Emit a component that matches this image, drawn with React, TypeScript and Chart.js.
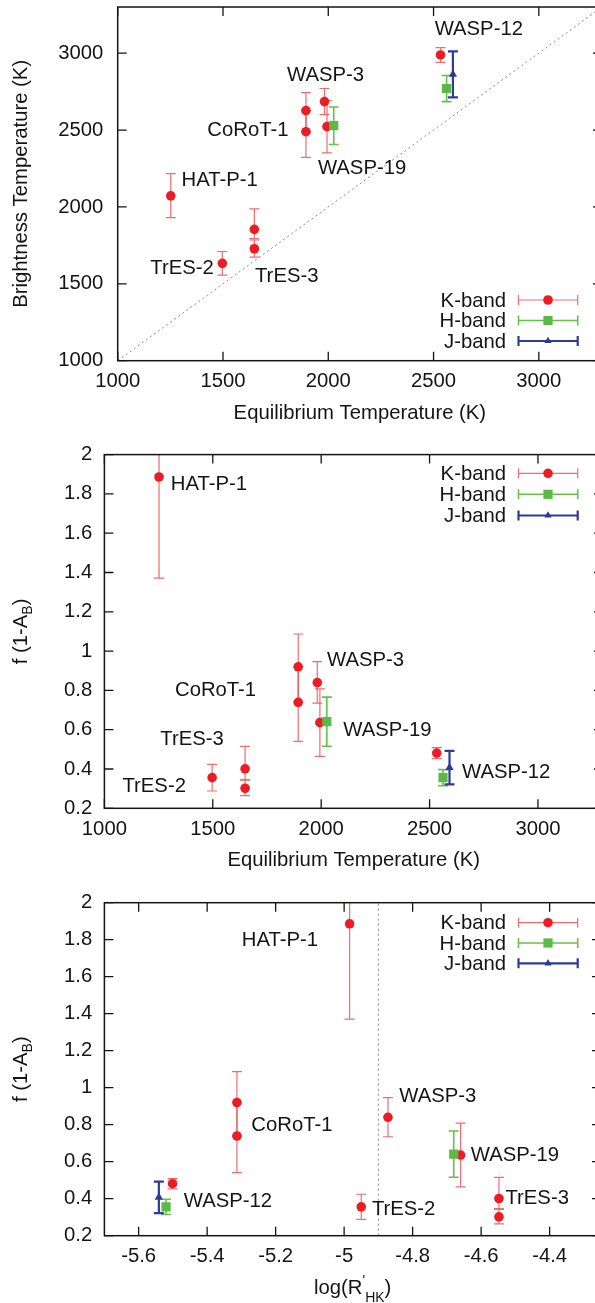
import React, { useEffect, useRef } from "react";
import { Chart, registerables } from "chart.js";
Chart.register(...registerables);

// ---------------- DATA ----------------
// K-band points (order: HAT-P-1, TrES-2, TrES-3 a, TrES-3 b, CoRoT-1 a, CoRoT-1 b, WASP-3, WASP-19, WASP-12)
const kTeq = [1252, 1497, 1649, 1649, 1894, 1894, 1982, 1994, 2533];
const kTb = [2072, 1633, 1854, 1728, 2626, 2489, 2685, 2522, 2988];
const kTbErrHi = [145, 77, 133, 57, 117, 137, 85, 170, 48];
const kTbErrLo = [142, 77, 60, 54, 137, 167, 85, 170, 48];
const kF = [1.886, 0.356, 0.401, 0.302, 0.92, 0.739, 0.84, 0.636, 0.481];
const kFErrHi = [0.515, 0.068, 0.114, 0.042, 0.167, 0.181, 0.106, 0.172, 0.028];
const kFErrLo = [0.515, 0.068, 0.056, 0.038, 0.181, 0.198, 0.105, 0.172, 0.028];
const kLogR = [-4.984, -4.95, -4.548, -4.548, -5.313, -5.313, -4.872, -4.66, -5.501];

// H-band points (WASP-19, WASP-12)
const hTeq = [2026, 2562];
const hTb = [2528, 2770];
const hTbErr = [122, 85];
const hF = [0.641, 0.356];
const hFErr = [0.125, 0.041];
const hLogR = [-4.68, -5.52];

// J-band points (WASP-12)
const jTeq = [2592];
const jTb = [2862];
const jTbErr = [150];
const jF = [0.407];
const jFErr = [0.085];
const jLogR = [-5.541];

// Reference lines
const diagX = [1000, 3300];
const diagY = [1000, 3300];
const activityX = [-4.9, -4.9];
const activityY = [0.2, 2];

// Ticks
const teqTicks = [1000, 1500, 2000, 2500, 3000];
const tbTicks = [1000, 1500, 2000, 2500, 3000];
const fTicks = [0.2, 0.4, 0.6, 0.8, 1, 1.2, 1.4, 1.6, 1.8, 2];
const logRTicks = [-5.6, -5.4, -5.2, -5, -4.8, -4.6, -4.4];

// Point labels
const p1LabelNames = ["WASP-12", "WASP-3", "CoRoT-1", "WASP-19", "HAT-P-1", "TrES-2", "TrES-3"];
const p1LabelX = [2715, 1987, 1811, 1951, 1303, 1456, 1652];
const p1LabelY = [3152, 2852, 2500, 2250, 2174, 1602, 1548];
const p1LabelAlign = ["center", "center", "right", "left", "left", "right", "left"];

const p2LabelNames = ["HAT-P-1", "WASP-3", "CoRoT-1", "WASP-19", "TrES-3", "TrES-2", "WASP-12"];
const p2LabelX = [1306, 2027, 1700, 2102, 1551, 1376, 2650];
const p2LabelY = [1.849, 0.951, 0.798, 0.598, 0.551, 0.31, 0.383];
const p2LabelAlign = ["left", "left", "right", "left", "right", "right", "left"];

const p3LabelNames = ["HAT-P-1", "WASP-3", "CoRoT-1", "WASP-19", "TrES-3", "TrES-2", "WASP-12"];
const p3LabelX = [-5.299, -4.839, -5.271, -4.63, -4.529, -4.919, -5.468];
const p3LabelY = [1.798, 0.951, 0.798, 0.636, 0.402, 0.342, 0.384];
const p3LabelAlign = ["left", "left", "left", "left", "left", "left", "left"];

const legendNames = ["K-band", "H-band", "J-band"];

// ---------------- STYLE ----------------
const FONT = '"Liberation Sans", Arial, Helvetica, sans-serif';
const FS = 20.3;
const CANVAS_W = 610;
const RED = "#ec1c24";
const RED_BAR = "rgba(238,70,70,0.8)";
const GREEN = "#5cb946";
const GREEN_BAR = "#66c04c";
const BLUE = "#2b3a94";
const BLUE_BAR = "#2d3c98";
const INK = "#141414";

type Part = { t: string; s: number; dy: number };

function drawParts(ctx: CanvasRenderingContext2D, parts: Part[], cx: number, baseY: number) {
  let total = 0;
  parts.forEach((p) => {
    ctx.font = `${p.s}px ${FONT}`;
    total += ctx.measureText(p.t).width;
  });
  let x = cx - total / 2;
  ctx.textAlign = "left";
  ctx.textBaseline = "alphabetic";
  parts.forEach((p) => {
    ctx.font = `${p.s}px ${FONT}`;
    ctx.fillText(p.t, x, baseY + p.dy);
    x += ctx.measureText(p.t).width;
  });
}

function drawMarker(ctx: CanvasRenderingContext2D, style: string, x: number, y: number, r: number, color: string) {
  ctx.fillStyle = color;
  ctx.beginPath();
  if (style === "circle") {
    ctx.arc(x, y, r, 0, Math.PI * 2);
  } else if (style === "rect") {
    const h = r * Math.SQRT1_2;
    ctx.rect(x - h, y - h, 2 * h, 2 * h);
  } else {
    ctx.moveTo(x, y - r);
    ctx.lineTo(x + r * 0.866, y + r * 0.5);
    ctx.lineTo(x - r * 0.866, y + r * 0.5);
    ctx.closePath();
  }
  ctx.fill();
}

type Spec = {
  top: number;
  height: number;
  areaTop: number;
  areaBottom: number;
  areaLeft: number;
  areaRight: number;
  xMin: number;
  xMax: number;
  yMin: number;
  yMax: number;
  xTicks: number[];
  yTicks: number[];
  yLabelPad: number;
  datasets: any[];
  labelNames: string[];
  labelX: number[];
  labelY: number[];
  labelAlign: string[];
  legendRows: number[];
  xTitle: Part[];
  yTitle: Part[];
};

const fmt = (v: number) => String(Math.round(v * 100) / 100);

function kSet(xs: number[], ys: number[], hi: number[], lo: number[]) {
  return {
    label: "K-band",
    data: xs.map((x, i) => ({ x, y: ys[i] })),
    pointStyle: "circle",
    pointRadius: 4.8,
    pointBackgroundColor: RED,
    pointBorderWidth: 0,
    errHi: hi,
    errLo: lo,
    errColor: RED_BAR,
    errWidth: 1.2,
    order: 3,
  };
}
function hSet(xs: number[], ys: number[], err: number[]) {
  return {
    label: "H-band",
    data: xs.map((x, i) => ({ x, y: ys[i] })),
    pointStyle: "rect",
    pointRadius: 6.5,
    pointBackgroundColor: GREEN,
    pointBorderWidth: 0,
    errHi: err,
    errLo: err,
    errColor: GREEN_BAR,
    errWidth: 1.6,
    order: 2,
  };
}
function jSet(xs: number[], ys: number[], err: number[]) {
  return {
    label: "J-band",
    data: xs.map((x, i) => ({ x, y: ys[i] })),
    pointStyle: "triangle",
    pointRadius: 4.8,
    pointBackgroundColor: BLUE,
    pointBorderWidth: 0,
    errHi: err,
    errLo: err,
    errColor: BLUE_BAR,
    errWidth: 2.2,
    order: 1,
  };
}
function refSet(xs: number[], ys: number[]) {
  return {
    label: "ref",
    data: xs.map((x, i) => ({ x, y: ys[i] })),
    showLine: true,
    borderColor: "#8a8a8a",
    borderWidth: 1,
    borderDash: [2, 3],
    pointRadius: 0,
    order: 10,
  };
}

const legendStyle = [
  { marker: "circle", r: 4.8, color: RED, bar: RED_BAR, w: 1.2 },
  { marker: "rect", r: 6.5, color: GREEN, bar: GREEN_BAR, w: 1.6 },
  { marker: "triangle", r: 4.2, color: BLUE, bar: BLUE_BAR, w: 2.2 },
];

const fTitle: Part[] = [
  { t: "f (1-A", s: FS, dy: 0 },
  { t: "B", s: 14, dy: 5 },
  { t: ")", s: FS, dy: 0 },
];

const spec1: Spec = {
  top: 0,
  height: 435,
  areaTop: 7,
  areaBottom: 360.7,
  areaLeft: 117.7,
  areaRight: 602,
  xMin: 1000,
  xMax: 3300,
  yMin: 1000,
  yMax: 3300,
  xTicks: teqTicks,
  yTicks: tbTicks,
  yLabelPad: 14.4,
  datasets: [
    refSet(diagX, diagY),
    kSet(kTeq, kTb, kTbErrHi, kTbErrLo),
    hSet(hTeq, hTb, hTbErr),
    jSet(jTeq, jTb, jTbErr),
  ],
  labelNames: p1LabelNames,
  labelX: p1LabelX,
  labelY: p1LabelY,
  labelAlign: p1LabelAlign,
  legendRows: [300, 320.5, 341],
  xTitle: [{ t: "Equilibrium Temperature (K)", s: FS, dy: 0 }],
  yTitle: [{ t: "Brightness Temperature (K)", s: FS, dy: 0 }],
};

const spec2: Spec = {
  top: 435,
  height: 443,
  areaTop: 454.6,
  areaBottom: 808.3,
  areaLeft: 104.4,
  areaRight: 603,
  xMin: 1000,
  xMax: 3300,
  yMin: 0.2,
  yMax: 2,
  xTicks: teqTicks,
  yTicks: fTicks,
  yLabelPad: 12.2,
  datasets: [
    kSet(kTeq, kF, kFErrHi, kFErrLo),
    hSet(hTeq, hF, hFErr),
    jSet(jTeq, jF, jFErr),
  ],
  labelNames: p2LabelNames,
  labelX: p2LabelX,
  labelY: p2LabelY,
  labelAlign: p2LabelAlign,
  legendRows: [473.3, 494.3, 515.5],
  xTitle: [{ t: "Equilibrium Temperature (K)", s: FS, dy: 0 }],
  yTitle: fTitle,
};

const spec3: Spec = {
  top: 878,
  height: 425,
  areaTop: 902.7,
  areaBottom: 1235.7,
  areaLeft: 104.4,
  areaRight: 601,
  xMin: -5.7,
  xMax: -4.25,
  yMin: 0.2,
  yMax: 2,
  xTicks: logRTicks,
  yTicks: fTicks,
  yLabelPad: 12.2,
  datasets: [
    refSet(activityX, activityY),
    kSet(kLogR, kF, kFErrHi, kFErrLo),
    hSet(hLogR, hF, hFErr),
    jSet(jLogR, jF, jFErr),
  ],
  labelNames: p3LabelNames,
  labelX: p3LabelX,
  labelY: p3LabelY,
  labelAlign: p3LabelAlign,
  legendRows: [922.7, 943, 963.3],
  xTitle: [
    { t: "log(R", s: FS, dy: 0 },
    { t: "'", s: 14, dy: -9 },
    { t: "HK", s: 14, dy: 8 },
    { t: ")", s: FS, dy: 0 },
  ],
  yTitle: fTitle,
};

function buildChart(canvas: HTMLCanvasElement, spec: Spec) {
  const plugin = {
    id: "gnuplotFrame",
    beforeDatasetsDraw(chart: any) {
      const { ctx, chartArea: a } = chart;
      const xs = chart.scales.x;
      const ys = chart.scales.y;
      ctx.save();
      ctx.beginPath();
      ctx.rect(a.left, a.top, a.right - a.left, a.bottom - a.top);
      ctx.clip();
      chart.data.datasets.forEach((ds: any) => {
        if (!ds.errHi) return;
        ctx.strokeStyle = ds.errColor;
        ctx.lineWidth = ds.errWidth;
        ds.data.forEach((p: any, j: number) => {
          const px = xs.getPixelForValue(p.x);
          const t = ys.getPixelForValue(p.y + ds.errHi[j]);
          const b = ys.getPixelForValue(p.y - ds.errLo[j]);
          ctx.beginPath();
          ctx.moveTo(px, t);
          ctx.lineTo(px, b);
          ctx.moveTo(px - 5, t);
          ctx.lineTo(px + 5, t);
          ctx.moveTo(px - 5, b);
          ctx.lineTo(px + 5, b);
          ctx.stroke();
        });
      });
      ctx.restore();
    },
    afterDraw(chart: any) {
      const { ctx, chartArea: a } = chart;
      const xs = chart.scales.x;
      const ys = chart.scales.y;
      ctx.save();
      // frame
      ctx.strokeStyle = INK;
      ctx.lineWidth = 1.5;
      ctx.strokeRect(a.left, a.top, a.right - a.left, a.bottom - a.top);
      // inward ticks, mirrored
      ctx.lineWidth = 1.3;
      ctx.beginPath();
      xs.ticks.forEach((t: any) => {
        const px = xs.getPixelForValue(t.value);
        ctx.moveTo(px, a.bottom);
        ctx.lineTo(px, a.bottom - 9);
        ctx.moveTo(px, a.top);
        ctx.lineTo(px, a.top + 9);
      });
      ys.ticks.forEach((t: any) => {
        const py = ys.getPixelForValue(t.value);
        ctx.moveTo(a.left, py);
        ctx.lineTo(a.left + 9, py);
        ctx.moveTo(a.right, py);
        ctx.lineTo(a.right - 9, py);
      });
      ctx.stroke();

      // point labels
      ctx.fillStyle = INK;
      ctx.font = `${FS}px ${FONT}`;
      ctx.textBaseline = "middle";
      spec.labelNames.forEach((name, i) => {
        ctx.textAlign = spec.labelAlign[i] as CanvasTextAlign;
        ctx.fillText(name, xs.getPixelForValue(spec.labelX[i]), ys.getPixelForValue(spec.labelY[i]));
      });

      // legend
      legendNames.forEach((name, i) => {
        const y = spec.legendRows[i] - spec.top;
        const st = legendStyle[i];
        ctx.fillStyle = INK;
        ctx.font = `${FS}px ${FONT}`;
        ctx.textAlign = "right";
        ctx.textBaseline = "middle";
        ctx.fillText(name, 506, y + 1);
        ctx.strokeStyle = st.bar;
        ctx.lineWidth = st.w;
        ctx.beginPath();
        ctx.moveTo(518.5, y);
        ctx.lineTo(577.7, y);
        ctx.moveTo(518.5, y - 5);
        ctx.lineTo(518.5, y + 5);
        ctx.moveTo(577.7, y - 5);
        ctx.lineTo(577.7, y + 5);
        ctx.stroke();
        drawMarker(ctx, st.marker, 548, y, st.r, st.color);
      });

      // axis titles
      ctx.fillStyle = INK;
      drawParts(ctx, spec.xTitle, (a.left + a.right) / 2, a.bottom + 58);
      ctx.save();
      ctx.translate(26.5, (a.top + a.bottom) / 2);
      ctx.rotate(-Math.PI / 2);
      drawParts(ctx, spec.yTitle, 0, 0);
      ctx.restore();
      ctx.restore();
    },
  };

  const tickFont = { family: FONT, size: FS };
  return new Chart(canvas, {
    type: "scatter",
    data: { datasets: spec.datasets },
    options: {
      responsive: false,
      maintainAspectRatio: false,
      animation: false,
      devicePixelRatio: 1,
      layout: {
        padding: {
          top: spec.areaTop - spec.top,
          right: CANVAS_W - spec.areaRight,
          bottom: 0,
          left: 0,
        },
      },
      plugins: { legend: { display: false }, tooltip: { enabled: false }, title: { display: false } },
      scales: {
        x: {
          type: "linear",
          position: "bottom",
          min: spec.xMin,
          max: spec.xMax,
          afterBuildTicks: (s: any) => {
            s.ticks = spec.xTicks.map((v) => ({ value: v }));
          },
          afterFit: (s: any) => {
            s.height = spec.top + spec.height - spec.areaBottom;
            s.paddingLeft = 0;
            s.paddingRight = 0;
            s.paddingTop = 0;
            s.paddingBottom = 0;
          },
          grid: { display: false, drawTicks: false },
          border: { display: false },
          ticks: {
            padding: 9,
            color: INK,
            font: tickFont,
            maxRotation: 0,
            autoSkip: false,
            callback: (v: any) => fmt(Number(v)),
          },
        },
        y: {
          type: "linear",
          position: "left",
          min: spec.yMin,
          max: spec.yMax,
          afterBuildTicks: (s: any) => {
            s.ticks = spec.yTicks.map((v) => ({ value: v }));
          },
          afterFit: (s: any) => {
            s.width = spec.areaLeft;
            s.paddingTop = 0;
            s.paddingBottom = 0;
            s.paddingLeft = 0;
            s.paddingRight = 0;
          },
          grid: { display: false, drawTicks: false },
          border: { display: false },
          ticks: {
            padding: spec.yLabelPad,
            color: INK,
            font: tickFont,
            autoSkip: false,
            callback: (v: any) => fmt(Number(v)),
          },
        },
      },
    } as any,
    plugins: [plugin as any],
  });
}

function Panel({ spec }: { spec: Spec }) {
  const ref = useRef<HTMLCanvasElement>(null);
  useEffect(() => {
    const chart = buildChart(ref.current as HTMLCanvasElement, spec);
    return () => chart.destroy();
  }, [spec]);
  return (
    <canvas
      ref={ref}
      width={CANVAS_W}
      height={spec.height}
      style={{ position: "absolute", left: 0, top: spec.top, width: CANVAS_W, height: spec.height, display: "block" }}
    />
  );
}

export default function App() {
  return (
    <div
      style={{
        position: "fixed",
        left: 0,
        top: 0,
        width: 595,
        height: 1303,
        overflow: "hidden",
        background: "#ffffff",
      }}
    >
      <Panel spec={spec1} />
      <Panel spec={spec2} />
      <Panel spec={spec3} />
    </div>
  );
}
